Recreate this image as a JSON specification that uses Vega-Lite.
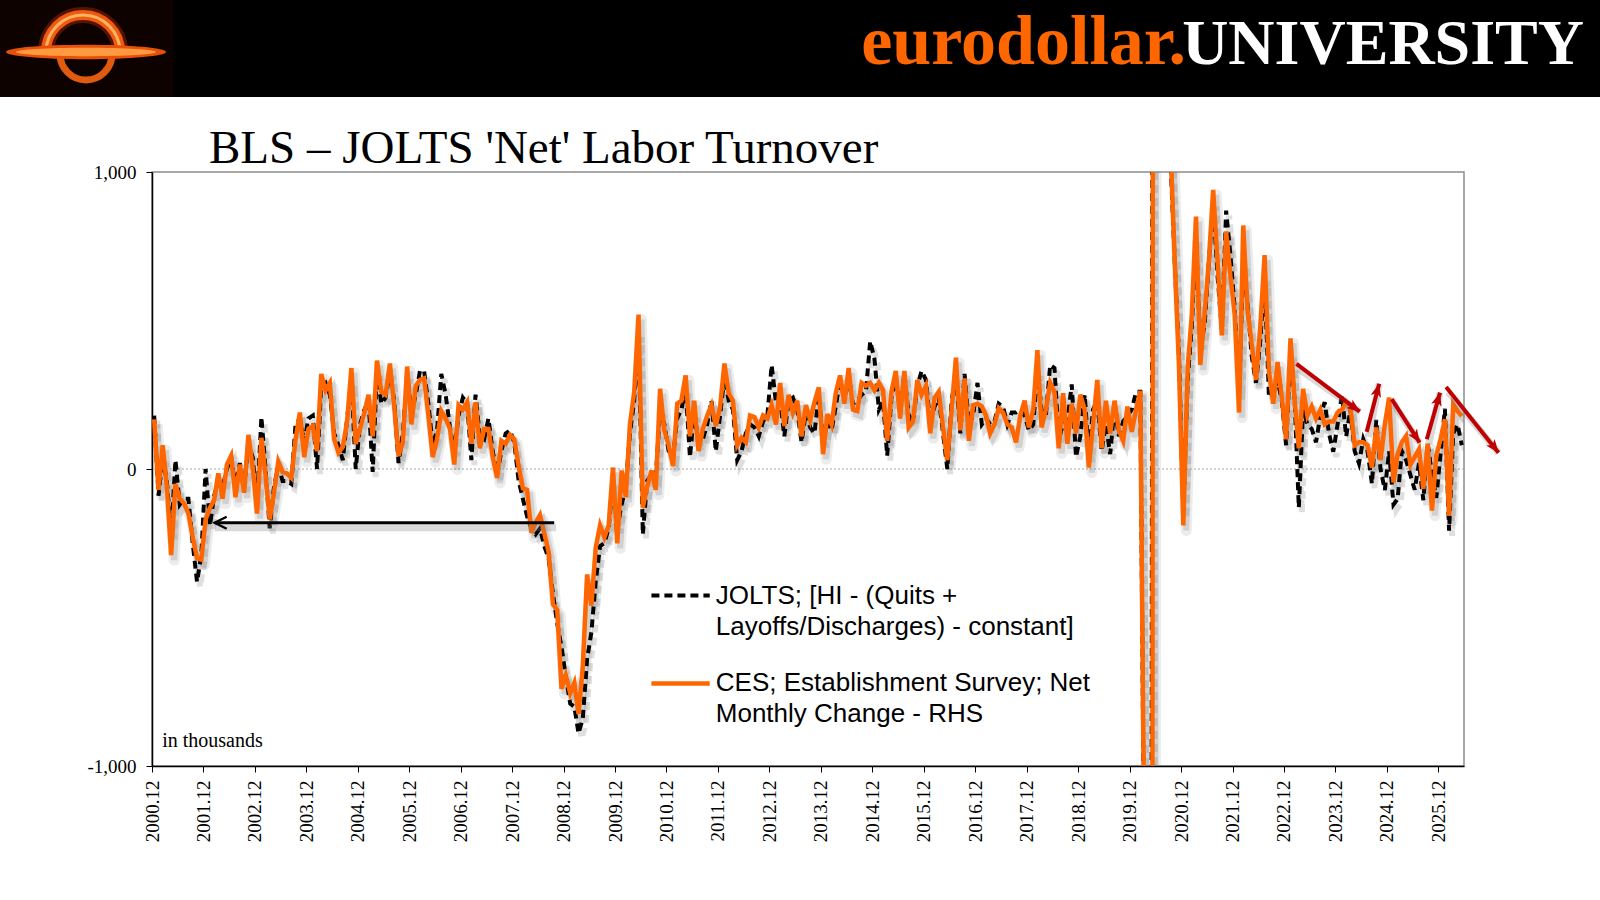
{
  "$schema": "https://vega.github.io/schema/vega-lite/v6.json",
  "background": "white",
  "padding": {"left": 0, "top": 0, "right": 0, "bottom": 40},
  "spacing": 27,
  "config": {"view": {"stroke": null}},
  "datasets": {
    "labor": [
      {"month":"2000-12","ces":167,"jolts":180},
      {"month":"2001-01","ces":-70,"jolts":-90},{"month":"2001-02","ces":80,"jolts":40},{"month":"2001-03","ces":-60,"jolts":-40},{"month":"2001-04","ces":-290,"jolts":-220},{"month":"2001-05","ces":-50,"jolts":30},{"month":"2001-06","ces":-100,"jolts":-120},{"month":"2001-07","ces":-115,"jolts":-100},{"month":"2001-08","ces":-150,"jolts":-100},{"month":"2001-09","ces":-230,"jolts":-250},{"month":"2001-10","ces":-300,"jolts":-380},{"month":"2001-11","ces":-305,"jolts":-290},{"month":"2001-12","ces":-170,"jolts":0},
      {"month":"2002-01","ces":-130,"jolts":-190},{"month":"2002-02","ces":-105,"jolts":-90},{"month":"2002-03","ces":-15,"jolts":-40},{"month":"2002-04","ces":-100,"jolts":-60},{"month":"2002-05","ces":15,"jolts":0},{"month":"2002-06","ces":45,"jolts":40},{"month":"2002-07","ces":-95,"jolts":-60},{"month":"2002-08","ces":15,"jolts":20},{"month":"2002-09","ces":-80,"jolts":-60},{"month":"2002-10","ces":115,"jolts":80},{"month":"2002-11","ces":5,"jolts":40},{"month":"2002-12","ces":-150,"jolts":-120},
      {"month":"2003-01","ces":105,"jolts":175},{"month":"2003-02","ces":-20,"jolts":0},{"month":"2003-03","ces":-170,"jolts":-200},{"month":"2003-04","ces":-80,"jolts":-60},{"month":"2003-05","ces":25,"jolts":10},{"month":"2003-06","ces":-10,"jolts":-40},{"month":"2003-07","ces":-15,"jolts":-40},{"month":"2003-08","ces":-30,"jolts":-50},{"month":"2003-09","ces":100,"jolts":150},{"month":"2003-10","ces":190,"jolts":170},{"month":"2003-11","ces":40,"jolts":90},{"month":"2003-12","ces":135,"jolts":170},
      {"month":"2004-01","ces":145,"jolts":180},{"month":"2004-02","ces":60,"jolts":0},{"month":"2004-03","ces":320,"jolts":280},{"month":"2004-04","ces":265,"jolts":290},{"month":"2004-05","ces":290,"jolts":250},{"month":"2004-06","ces":100,"jolts":120},{"month":"2004-07","ces":55,"jolts":80},{"month":"2004-08","ces":75,"jolts":30},{"month":"2004-09","ces":160,"jolts":170},{"month":"2004-10","ces":340,"jolts":300},{"month":"2004-11","ces":85,"jolts":0},{"month":"2004-12","ces":135,"jolts":150},
      {"month":"2005-01","ces":190,"jolts":200},{"month":"2005-02","ces":250,"jolts":230},{"month":"2005-03","ces":110,"jolts":-10},{"month":"2005-04","ces":365,"jolts":330},{"month":"2005-05","ces":260,"jolts":220},{"month":"2005-06","ces":250,"jolts":240},{"month":"2005-07","ces":355,"jolts":330},{"month":"2005-08","ces":210,"jolts":230},{"month":"2005-09","ces":45,"jolts":20},{"month":"2005-10","ces":90,"jolts":120},{"month":"2005-11","ces":345,"jolts":320},{"month":"2005-12","ces":150,"jolts":190},
      {"month":"2006-01","ces":280,"jolts":250},{"month":"2006-02","ces":300,"jolts":330},{"month":"2006-03","ces":305,"jolts":330},{"month":"2006-04","ces":180,"jolts":220},{"month":"2006-05","ces":40,"jolts":80},{"month":"2006-06","ces":100,"jolts":130},{"month":"2006-07","ces":195,"jolts":320},{"month":"2006-08","ces":170,"jolts":250},{"month":"2006-09","ces":135,"jolts":140},{"month":"2006-10","ces":15,"jolts":60},{"month":"2006-11","ces":215,"jolts":180},{"month":"2006-12","ces":200,"jolts":240},
      {"month":"2007-01","ces":225,"jolts":220},{"month":"2007-02","ces":85,"jolts":30},{"month":"2007-03","ces":225,"jolts":250},{"month":"2007-04","ces":70,"jolts":110},{"month":"2007-05","ces":135,"jolts":100},{"month":"2007-06","ces":135,"jolts":170},{"month":"2007-07","ces":40,"jolts":60},{"month":"2007-08","ces":-30,"jolts":-20},{"month":"2007-09","ces":95,"jolts":60},{"month":"2007-10","ces":85,"jolts":120},{"month":"2007-11","ces":115,"jolts":130},{"month":"2007-12","ces":100,"jolts":90},
      {"month":"2008-01","ces":10,"jolts":-40},{"month":"2008-02","ces":-65,"jolts":-100},{"month":"2008-03","ces":-70,"jolts":-160},{"month":"2008-04","ces":-215,"jolts":-200},{"month":"2008-05","ces":-180,"jolts":-220},{"month":"2008-06","ces":-155,"jolts":-200},{"month":"2008-07","ces":-215,"jolts":-260},{"month":"2008-08","ces":-280,"jolts":-300},{"month":"2008-09","ces":-455,"jolts":-420},{"month":"2008-10","ces":-475,"jolts":-520},{"month":"2008-11","ces":-740,"jolts":-600},{"month":"2008-12","ces":-695,"jolts":-700},
      {"month":"2009-01","ces":-755,"jolts":-790},{"month":"2009-02","ces":-720,"jolts":-800},{"month":"2009-03","ces":-825,"jolts":-890},{"month":"2009-04","ces":-665,"jolts":-840},{"month":"2009-05","ces":-355,"jolts":-640},{"month":"2009-06","ces":-460,"jolts":-550},{"month":"2009-07","ces":-265,"jolts":-380},{"month":"2009-08","ces":-190,"jolts":-260},{"month":"2009-09","ces":-230,"jolts":-250},{"month":"2009-10","ces":-190,"jolts":-200},{"month":"2009-11","ces":5,"jolts":-40},{"month":"2009-12","ces":-250,"jolts":-200},
      {"month":"2010-01","ces":-5,"jolts":-120},{"month":"2010-02","ces":-95,"jolts":-60},{"month":"2010-03","ces":150,"jolts":120},{"month":"2010-04","ces":260,"jolts":230},{"month":"2010-05","ces":520,"jolts":460},{"month":"2010-06","ces":-130,"jolts":-220},{"month":"2010-07","ces":-60,"jolts":-40},{"month":"2010-08","ces":-5,"jolts":-20},{"month":"2010-09","ces":-70,"jolts":-30},{"month":"2010-10","ces":270,"jolts":200},{"month":"2010-11","ces":130,"jolts":150},{"month":"2010-12","ces":80,"jolts":60},
      {"month":"2011-01","ces":10,"jolts":40},{"month":"2011-02","ces":220,"jolts":170},{"month":"2011-03","ces":230,"jolts":200},{"month":"2011-04","ces":315,"jolts":270},{"month":"2011-05","ces":110,"jolts":40},{"month":"2011-06","ces":230,"jolts":190},{"month":"2011-07","ces":60,"jolts":90},{"month":"2011-08","ces":135,"jolts":100},{"month":"2011-09","ces":180,"jolts":150},{"month":"2011-10","ces":215,"jolts":230},{"month":"2011-11","ces":145,"jolts":60},{"month":"2011-12","ces":210,"jolts":180},
      {"month":"2012-01","ces":355,"jolts":310},{"month":"2012-02","ces":255,"jolts":230},{"month":"2012-03","ces":230,"jolts":200},{"month":"2012-04","ces":80,"jolts":30},{"month":"2012-05","ces":105,"jolts":60},{"month":"2012-06","ces":90,"jolts":120},{"month":"2012-07","ces":180,"jolts":150},{"month":"2012-08","ces":175,"jolts":140},{"month":"2012-09","ces":140,"jolts":110},{"month":"2012-10","ces":180,"jolts":160},{"month":"2012-11","ces":170,"jolts":180},{"month":"2012-12","ces":215,"jolts":350},
      {"month":"2013-01","ces":150,"jolts":220},{"month":"2013-02","ces":290,"jolts":230},{"month":"2013-03","ces":145,"jolts":110},{"month":"2013-04","ces":250,"jolts":230},{"month":"2013-05","ces":190,"jolts":240},{"month":"2013-06","ces":230,"jolts":200},{"month":"2013-07","ces":110,"jolts":90},{"month":"2013-08","ces":215,"jolts":190},{"month":"2013-09","ces":165,"jolts":140},{"month":"2013-10","ces":225,"jolts":120},{"month":"2013-11","ces":275,"jolts":250},{"month":"2013-12","ces":50,"jolts":90},
      {"month":"2014-01","ces":185,"jolts":160},{"month":"2014-02","ces":150,"jolts":130},{"month":"2014-03","ces":255,"jolts":210},{"month":"2014-04","ces":315,"jolts":300},{"month":"2014-05","ces":220,"jolts":240},{"month":"2014-06","ces":340,"jolts":300},{"month":"2014-07","ces":200,"jolts":220},{"month":"2014-08","ces":195,"jolts":230},{"month":"2014-09","ces":290,"jolts":250},{"month":"2014-10","ces":280,"jolts":260},{"month":"2014-11","ces":290,"jolts":430},{"month":"2014-12","ces":265,"jolts":370},
      {"month":"2015-01","ces":290,"jolts":200},{"month":"2015-02","ces":265,"jolts":230},{"month":"2015-03","ces":95,"jolts":45},{"month":"2015-04","ces":260,"jolts":240},{"month":"2015-05","ces":330,"jolts":300},{"month":"2015-06","ces":170,"jolts":200},{"month":"2015-07","ces":330,"jolts":320},{"month":"2015-08","ces":140,"jolts":180},{"month":"2015-09","ces":160,"jolts":160},{"month":"2015-10","ces":300,"jolts":280},{"month":"2015-11","ces":250,"jolts":330},{"month":"2015-12","ces":280,"jolts":300},
      {"month":"2016-01","ces":120,"jolts":150},{"month":"2016-02","ces":240,"jolts":210},{"month":"2016-03","ces":260,"jolts":240},{"month":"2016-04","ces":140,"jolts":120},{"month":"2016-05","ces":30,"jolts":0},{"month":"2016-06","ces":200,"jolts":230},{"month":"2016-07","ces":375,"jolts":320},{"month":"2016-08","ces":130,"jolts":120},{"month":"2016-09","ces":305,"jolts":320},{"month":"2016-10","ces":95,"jolts":150},{"month":"2016-11","ces":215,"jolts":180},{"month":"2016-12","ces":220,"jolts":290},
      {"month":"2017-01","ces":210,"jolts":150},{"month":"2017-02","ces":180,"jolts":170},{"month":"2017-03","ces":120,"jolts":150},{"month":"2017-04","ces":150,"jolts":160},{"month":"2017-05","ces":205,"jolts":220},{"month":"2017-06","ces":190,"jolts":210},{"month":"2017-07","ces":150,"jolts":150},{"month":"2017-08","ces":140,"jolts":190},{"month":"2017-09","ces":90,"jolts":190},{"month":"2017-10","ces":180,"jolts":200},{"month":"2017-11","ces":230,"jolts":180},{"month":"2017-12","ces":140,"jolts":130},
      {"month":"2018-01","ces":200,"jolts":150},{"month":"2018-02","ces":400,"jolts":330},{"month":"2018-03","ces":140,"jolts":200},{"month":"2018-04","ces":200,"jolts":180},{"month":"2018-05","ces":290,"jolts":350},{"month":"2018-06","ces":260,"jolts":340},{"month":"2018-07","ces":70,"jolts":100},{"month":"2018-08","ces":255,"jolts":150},{"month":"2018-09","ces":85,"jolts":160},{"month":"2018-10","ces":220,"jolts":285},{"month":"2018-11","ces":120,"jolts":40},{"month":"2018-12","ces":250,"jolts":110},
      {"month":"2019-01","ces":200,"jolts":250},{"month":"2019-02","ces":5,"jolts":40},{"month":"2019-03","ces":150,"jolts":200},{"month":"2019-04","ces":300,"jolts":230},{"month":"2019-05","ces":70,"jolts":60},{"month":"2019-06","ces":230,"jolts":150},{"month":"2019-07","ces":120,"jolts":50},{"month":"2019-08","ces":230,"jolts":210},{"month":"2019-09","ces":130,"jolts":110},{"month":"2019-10","ces":95,"jolts":160},{"month":"2019-11","ces":210,"jolts":180},{"month":"2019-12","ces":125,"jolts":200},
      {"month":"2020-01","ces":200,"jolts":260},{"month":"2020-02","ces":263,"jolts":260},{"month":"2020-03","ces":-1400,"jolts":-1500},{"month":"2020-04","ces":-20500,"jolts":-9000},{"month":"2020-05","ces":2800,"jolts":3500},{"month":"2020-06","ces":4600,"jolts":2800},{"month":"2020-07","ces":1700,"jolts":1500},{"month":"2020-08","ces":1500,"jolts":1200},{"month":"2020-09","ces":1100,"jolts":1050},{"month":"2020-10","ces":700,"jolts":700},{"month":"2020-11","ces":350,"jolts":380},{"month":"2020-12","ces":-190,"jolts":-150},
      {"month":"2021-01","ces":340,"jolts":300},{"month":"2021-02","ces":520,"jolts":480},{"month":"2021-03","ces":850,"jolts":780},{"month":"2021-04","ces":350,"jolts":420},{"month":"2021-05","ces":520,"jolts":480},{"month":"2021-06","ces":700,"jolts":700},{"month":"2021-07","ces":940,"jolts":900},{"month":"2021-08","ces":700,"jolts":650},{"month":"2021-09","ces":450,"jolts":470},{"month":"2021-10","ces":800,"jolts":870},{"month":"2021-11","ces":650,"jolts":720},{"month":"2021-12","ces":520,"jolts":540},
      {"month":"2022-01","ces":190,"jolts":250},{"month":"2022-02","ces":820,"jolts":700},{"month":"2022-03","ces":540,"jolts":560},{"month":"2022-04","ces":420,"jolts":380},{"month":"2022-05","ces":300,"jolts":290},{"month":"2022-06","ces":480,"jolts":430},{"month":"2022-07","ces":720,"jolts":650},{"month":"2022-08","ces":330,"jolts":240},{"month":"2022-09","ces":220,"jolts":250},{"month":"2022-10","ces":360,"jolts":300},{"month":"2022-11","ces":240,"jolts":230},{"month":"2022-12","ces":100,"jolts":80},
      {"month":"2023-01","ces":440,"jolts":400},{"month":"2023-02","ces":230,"jolts":230},{"month":"2023-03","ces":70,"jolts":-130},{"month":"2023-04","ces":270,"jolts":200},{"month":"2023-05","ces":180,"jolts":150},{"month":"2023-06","ces":210,"jolts":135},{"month":"2023-07","ces":170,"jolts":90},{"month":"2023-08","ces":200,"jolts":180},{"month":"2023-09","ces":150,"jolts":225},{"month":"2023-10","ces":160,"jolts":120},{"month":"2023-11","ces":160,"jolts":58},{"month":"2023-12","ces":190,"jolts":150},
      {"month":"2024-01","ces":200,"jolts":250},{"month":"2024-02","ces":225,"jolts":109},{"month":"2024-03","ces":210,"jolts":200},{"month":"2024-04","ces":80,"jolts":60},{"month":"2024-05","ces":90,"jolts":19},{"month":"2024-06","ces":90,"jolts":100},{"month":"2024-07","ces":80,"jolts":60},{"month":"2024-08","ces":5,"jolts":-50},{"month":"2024-09","ces":140,"jolts":165},{"month":"2024-10","ces":30,"jolts":0},{"month":"2024-11","ces":150,"jolts":-71},{"month":"2024-12","ces":240,"jolts":60},
      {"month":"2025-01","ces":-45,"jolts":-120},{"month":"2025-02","ces":50,"jolts":-100},{"month":"2025-03","ces":90,"jolts":60},{"month":"2025-04","ces":111,"jolts":30},{"month":"2025-05","ces":15,"jolts":-20},{"month":"2025-06","ces":40,"jolts":-70},{"month":"2025-07","ces":67,"jolts":20},{"month":"2025-08","ces":-67,"jolts":-105},{"month":"2025-09","ces":85,"jolts":88},{"month":"2025-10","ces":-140,"jolts":-20},{"month":"2025-11","ces":45,"jolts":-97},{"month":"2025-12","ces":100,"jolts":50},
      {"month":"2026-01","ces":168,"jolts":203},{"month":"2026-02","ces":-158,"jolts":-208},{"month":"2026-03","ces":218,"jolts":120},{"month":"2026-04","ces":195,"jolts":150},{"month":"2026-05","ces":178,"jolts":80}
    ],
    "arrows": [
      {"start":"2023-02-28","startValue":354,"end":"2024-05-22","endValue":193,"heading":37},
      {"start":"2024-07-10","startValue":125,"end":"2024-10-07","endValue":287,"heading":-75},
      {"start":"2025-01-04","startValue":235,"end":"2025-07-21","endValue":89,"heading":57},
      {"start":"2025-09-10","startValue":100,"end":"2025-12-13","endValue":257,"heading":-74},
      {"start":"2026-01-25","startValue":276,"end":"2027-02-01","endValue":55,"heading":52}
    ]
  },
  "vconcat": [
    {
      "width": 1448,
      "height": 97,
      "view": {"stroke": null},
      "data": {"values": [{}]},
      "layer": [
        {
          "mark": {"type": "rect", "color": "black", "opacity": 1},
          "encoding": {
            "x": {"datum": 0, "type": "quantitative", "scale": {"domain": [152, 1600], "nice": false, "zero": false}, "axis": null},
            "x2": {"datum": 1600},
            "y": {"datum": 0, "type": "quantitative", "scale": {"domain": [97, 0], "nice": false, "zero": false}, "axis": null},
            "y2": {"datum": 97}
          }
        },
        {
          "mark": {"type": "rect", "color": "#0d0200", "opacity": 1},
          "encoding": {"x": {"datum": 0, "type": "quantitative"}, "x2": {"datum": 173}, "y": {"datum": 0, "type": "quantitative"}, "y2": {"datum": 97}}
        },
        {
          "mark": {"type": "point", "shape": "M-1,0A1,1,0,0,1,1,0", "size": 5476, "filled": false, "strokeWidth": 16, "strokeJoin": "round", "color": "#b02800", "opacity": 0.45},
          "encoding": {"x": {"datum": 83, "type": "quantitative"}, "y": {"datum": 52, "type": "quantitative"}}
        },
        {
          "mark": {"type": "point", "shape": "M-1,0A1,1,0,0,1,1,0", "size": 5476, "filled": false, "strokeWidth": 10, "strokeJoin": "round", "color": "#ee5a10", "opacity": 1},
          "encoding": {"x": {"datum": 83, "type": "quantitative"}, "y": {"datum": 52, "type": "quantitative"}}
        },
        {
          "mark": {"type": "point", "shape": "M-1,0A1,1,0,0,1,1,0", "size": 5476, "filled": false, "strokeWidth": 3, "strokeJoin": "round", "color": "#ffb060", "opacity": 1},
          "encoding": {"x": {"datum": 83, "type": "quantitative"}, "y": {"datum": 52, "type": "quantitative"}}
        },
        {
          "mark": {"type": "point", "shape": "M-1,0A1,1,0,0,0,1,0", "size": 2704, "filled": false, "strokeWidth": 7, "strokeJoin": "round", "color": "#e05a10", "opacity": 1},
          "encoding": {"x": {"datum": 86, "type": "quantitative"}, "y": {"datum": 54, "type": "quantitative"}}
        },
        {
          "mark": {"type": "point", "shape": "M-1,0A1,0.09,0,1,1,1,0A1,0.09,0,1,1,-1,0Z", "size": 25600, "filled": true, "strokeWidth": 0, "color": "#e8500a", "opacity": 1},
          "encoding": {"x": {"datum": 86, "type": "quantitative"}, "y": {"datum": 52, "type": "quantitative"}}
        },
        {
          "mark": {"type": "point", "shape": "M-1,0A1,0.06,0,1,1,1,0A1,0.06,0,1,1,-1,0Z", "size": 19600, "filled": true, "strokeWidth": 0, "color": "#ff9a40", "opacity": 1},
          "encoding": {"x": {"datum": 86, "type": "quantitative"}, "y": {"datum": 52, "type": "quantitative"}}
        },
        {
          "mark": {"type": "text", "text": "UNIVERSITY", "font": "Liberation Serif", "fontWeight": "bold", "fontSize": 64, "color": "white", "align": "right", "baseline": "alphabetic"},
          "encoding": {"x": {"datum": 1584, "type": "quantitative"}, "y": {"datum": 64, "type": "quantitative"}}
        },
        {
          "mark": {"type": "text", "text": "eurodollar.", "font": "Liberation Serif", "fontWeight": "bold", "fontSize": 70, "color": "#FF6600", "align": "right", "baseline": "alphabetic"},
          "encoding": {"x": {"datum": 1186, "type": "quantitative"}, "y": {"datum": 64, "type": "quantitative"}}
        }
      ]
    },
    {
      "width": 1312,
      "height": 594,
      "view": {"stroke": "#8c8c8c", "strokeWidth": 1.5},
      "title": {"text": "BLS – JOLTS 'Net' Labor Turnover", "font": "Liberation Serif", "fontSize": 47, "fontWeight": "normal", "color": "black", "anchor": "start", "frame": "group", "dx": 57, "offset": -47, "baseline": "alphabetic"},
      "layer": [
        {
          "data": {"values": [{}]},
          "mark": {"type": "rule", "color": "#a6a6a6", "strokeWidth": 1, "strokeDash": [2, 2]},
          "encoding": {
            "y": {"datum": 0, "type": "quantitative", "scale": {"domain": [-1000, 1000], "nice": false, "zero": false}}
          }
        },
        {
          "data": {"name": "labor"},
          "mark": {"type": "line", "clip": true, "color": "#808080", "opacity": 0.25, "strokeWidth": 6, "strokeDash": [8, 5], "xOffset": 3, "yOffset": 5},
          "encoding": {
            "x": {"field": "month", "type": "temporal", "timeUnit": "utcyearmonth", "bandPosition": 0.5, "title": null},
            "y": {"field": "jolts", "type": "quantitative", "title": null}
          }
        },
        {
          "data": {"name": "labor"},
          "mark": {"type": "line", "clip": true, "color": "#808080", "opacity": 0.15, "strokeWidth": 11, "strokeJoin": "round", "xOffset": 3, "yOffset": 5},
          "encoding": {
            "x": {"field": "month", "type": "temporal", "timeUnit": "utcyearmonth", "bandPosition": 0.5, "title": null},
            "y": {"field": "ces", "type": "quantitative", "title": null}
          }
        },
        {
          "data": {"name": "labor"},
          "mark": {"type": "line", "clip": true, "color": "#808080", "opacity": 0.25, "strokeWidth": 6, "xOffset": 3, "yOffset": 5},
          "encoding": {
            "x": {"field": "month", "type": "temporal", "timeUnit": "utcyearmonth", "bandPosition": 0.5, "title": null},
            "y": {"field": "ces", "type": "quantitative", "title": null}
          }
        },
        {
          "data": {"name": "labor"},
          "mark": {"type": "line", "clip": true, "color": "black", "strokeWidth": 4, "strokeDash": [8, 5]},
          "encoding": {
            "x": {"field": "month", "type": "temporal", "timeUnit": "utcyearmonth", "bandPosition": 0.5, "title": null},
            "y": {"field": "jolts", "type": "quantitative", "title": null}
          }
        },
        {
          "data": {"name": "labor"},
          "mark": {"type": "line", "clip": true, "color": "#FF6600", "strokeWidth": 4.5},
          "encoding": {
            "x": {
              "field": "month", "type": "temporal", "timeUnit": "utcyearmonth", "bandPosition": 0.5,
              "scale": {"type": "utc", "domain": [{"year": 2000, "month": 12, "date": 1, "utc": true}, {"year": 2026, "month": 6, "date": 1, "utc": true}]},
              "axis": {
                "title": null,
                "values": [
                  {"year": 2000, "month": 12, "date": 1, "utc": true}, {"year": 2001, "month": 12, "date": 1, "utc": true},
                  {"year": 2002, "month": 12, "date": 1, "utc": true}, {"year": 2003, "month": 12, "date": 1, "utc": true},
                  {"year": 2004, "month": 12, "date": 1, "utc": true}, {"year": 2005, "month": 12, "date": 1, "utc": true},
                  {"year": 2006, "month": 12, "date": 1, "utc": true}, {"year": 2007, "month": 12, "date": 1, "utc": true},
                  {"year": 2008, "month": 12, "date": 1, "utc": true}, {"year": 2009, "month": 12, "date": 1, "utc": true},
                  {"year": 2010, "month": 12, "date": 1, "utc": true}, {"year": 2011, "month": 12, "date": 1, "utc": true},
                  {"year": 2012, "month": 12, "date": 1, "utc": true}, {"year": 2013, "month": 12, "date": 1, "utc": true},
                  {"year": 2014, "month": 12, "date": 1, "utc": true}, {"year": 2015, "month": 12, "date": 1, "utc": true},
                  {"year": 2016, "month": 12, "date": 1, "utc": true}, {"year": 2017, "month": 12, "date": 1, "utc": true},
                  {"year": 2018, "month": 12, "date": 1, "utc": true}, {"year": 2019, "month": 12, "date": 1, "utc": true},
                  {"year": 2020, "month": 12, "date": 1, "utc": true}, {"year": 2021, "month": 12, "date": 1, "utc": true},
                  {"year": 2022, "month": 12, "date": 1, "utc": true}, {"year": 2023, "month": 12, "date": 1, "utc": true},
                  {"year": 2024, "month": 12, "date": 1, "utc": true}, {"year": 2025, "month": 12, "date": 1, "utc": true}
                ],
                "format": "%Y.%m",
                "labelAngle": 270,
                "labelFont": "Liberation Serif",
                "labelFontSize": 19,
                "labelColor": "black",
                "labelPadding": 8,
                "labelOverlap": false,
                "labelFlush": false,
                "tickColor": "black",
                "tickSize": 6,
                "domainColor": "black",
                "domainWidth": 1.5,
                "grid": false
              }
            },
            "y": {
              "field": "ces", "type": "quantitative",
              "scale": {"domain": [-1000, 1000], "nice": false, "zero": false},
              "axis": {
                "title": null,
                "values": [-1000, 0, 1000],
                "labelExpr": "replace(format(datum.value, ',.0f'), '\u2212', '-')",
                "labelFont": "Liberation Serif",
                "labelFontSize": 19,
                "labelColor": "black",
                "labelPadding": 10,
                "tickColor": "black",
                "tickSize": 6,
                "domainColor": "black",
                "domainWidth": 1.5,
                "grid": false
              }
            }
          }
        },
        {
          "data": {"values": [{}]},
          "mark": {"type": "rule", "color": "#808080", "opacity": 0.3, "strokeWidth": 7, "xOffset": 2, "yOffset": 5},
          "encoding": {
            "x": {"datum": {"year": 2008, "month": 9, "date": 25, "utc": true}, "type": "temporal"},
            "x2": {"datum": {"year": 2002, "month": 2, "date": 19, "utc": true}},
            "y": {"datum": -181, "type": "quantitative"}
          }
        },
        {
          "data": {"values": [{}]},
          "mark": {"type": "rule", "color": "black", "strokeWidth": 3},
          "encoding": {
            "x": {"datum": {"year": 2008, "month": 9, "date": 25, "utc": true}, "type": "temporal"},
            "x2": {"datum": {"year": 2002, "month": 2, "date": 19, "utc": true}},
            "y": {"datum": -181, "type": "quantitative"}
          }
        },
        {
          "data": {"values": [{}]},
          "mark": {"type": "point", "shape": "M2,-1L0,0L2,1", "size": 144, "filled": false, "color": "black", "strokeWidth": 2.5, "opacity": 1},
          "encoding": {
            "x": {"datum": {"year": 2002, "month": 2, "date": 19, "utc": true}, "type": "temporal"},
            "y": {"datum": -181, "type": "quantitative"}
          }
        },
        {
          "data": {"name": "arrows"},
          "mark": {"type": "rule", "clip": false, "color": "#808080", "opacity": 0.3, "strokeWidth": 7, "xOffset": 2, "yOffset": 5},
          "encoding": {
            "x": {"field": "start", "type": "temporal", "title": null},
            "x2": {"field": "end"},
            "y": {"field": "startValue", "type": "quantitative", "title": null},
            "y2": {"field": "endValue"}
          }
        },
        {
          "data": {"name": "arrows"},
          "mark": {"type": "rule", "clip": false, "color": "#C00000", "strokeWidth": 4},
          "encoding": {
            "x": {"field": "start", "type": "temporal", "title": null},
            "x2": {"field": "end"},
            "y": {"field": "startValue", "type": "quantitative", "title": null},
            "y2": {"field": "endValue"}
          }
        },
        {
          "data": {"name": "arrows"},
          "mark": {"type": "point", "clip": false, "shape": "M0,0L-2.2,-0.9L-1.6,0L-2.2,0.9Z", "size": 144, "filled": true, "color": "#C00000", "opacity": 1},
          "encoding": {
            "x": {"field": "end", "type": "temporal", "title": null},
            "y": {"field": "endValue", "type": "quantitative", "title": null},
            "angle": {"field": "heading", "type": "quantitative", "scale": null}
          }
        },
        {
          "data": {"values": [{}]},
          "mark": {"type": "rule", "color": "black", "strokeWidth": 4, "strokeDash": [8, 5]},
          "encoding": {
            "x": {"datum": {"year": 2010, "month": 8, "date": 16, "utc": true}, "type": "temporal"},
            "x2": {"datum": {"year": 2011, "month": 10, "date": 4, "utc": true}},
            "y": {"datum": -426, "type": "quantitative"}
          }
        },
        {
          "data": {"values": [{}]},
          "mark": {"type": "rule", "color": "#FF6600", "strokeWidth": 4.5},
          "encoding": {
            "x": {"datum": {"year": 2010, "month": 8, "date": 16, "utc": true}, "type": "temporal"},
            "x2": {"datum": {"year": 2011, "month": 10, "date": 4, "utc": true}},
            "y": {"datum": -722, "type": "quantitative"}
          }
        },
        {
          "data": {"values": [{}]},
          "mark": {"type": "text", "text": "JOLTS; [HI - (Quits +\nLayoffs/Discharges) - constant]", "lineBreak": "\n", "lineHeight": 31, "font": "Liberation Sans", "fontSize": 26, "color": "black", "align": "left", "baseline": "middle"},
          "encoding": {
            "x": {"datum": {"year": 2011, "month": 11, "date": 16, "utc": true}, "type": "temporal"},
            "y": {"datum": -426, "type": "quantitative"}
          }
        },
        {
          "data": {"values": [{}]},
          "mark": {"type": "text", "text": "CES; Establishment Survey; Net\nMonthly Change - RHS", "lineBreak": "\n", "lineHeight": 31, "font": "Liberation Sans", "fontSize": 26, "color": "black", "align": "left", "baseline": "middle"},
          "encoding": {
            "x": {"datum": {"year": 2011, "month": 11, "date": 16, "utc": true}, "type": "temporal"},
            "y": {"datum": -722, "type": "quantitative"}
          }
        },
        {
          "data": {"values": [{}]},
          "mark": {"type": "text", "text": "in thousands", "font": "Liberation Serif", "fontSize": 20, "color": "black", "align": "left", "baseline": "alphabetic"},
          "encoding": {
            "x": {"datum": {"year": 2001, "month": 2, "date": 11, "utc": true}, "type": "temporal"},
            "y": {"datum": -936, "type": "quantitative"}
          }
        }
      ]
    }
  ]
}
